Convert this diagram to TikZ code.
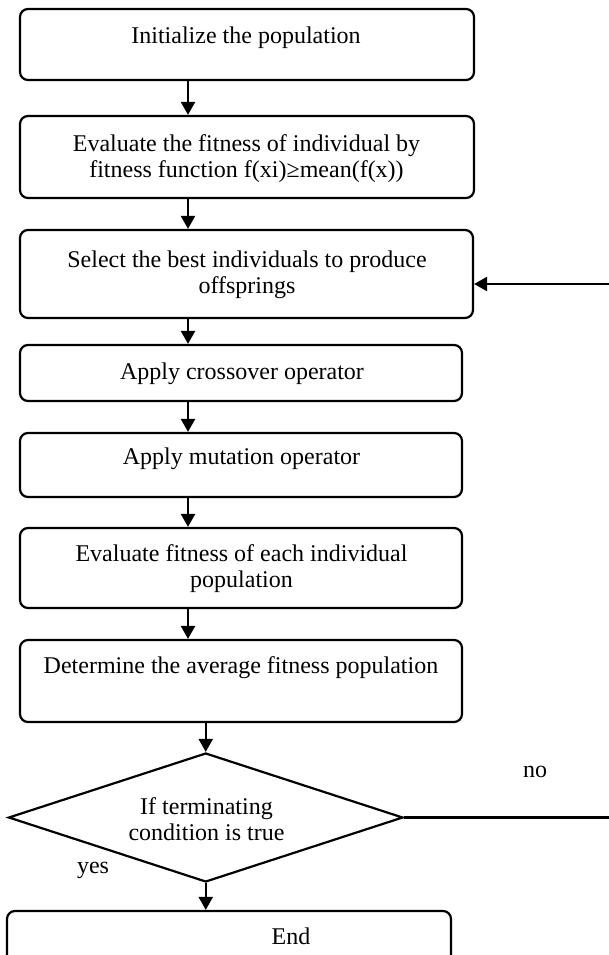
\documentclass[tikz,border=0pt]{standalone}
\usepackage{fontspec}
\setmainfont{Liberation Serif}
\usetikzlibrary{arrows.meta,shapes.geometric}
\begin{document}
\begin{tikzpicture}[x=1pt,y=-1pt,
  box/.style={draw, line width=2.2pt, rounded corners=8pt, inner sep=0pt},
  txt/.style={font=\fontsize{24}{26}\selectfont, align=center, inner sep=0pt, anchor=base},
  flow/.style={line width=2.2pt, -{Triangle[length=13pt,width=14pt]}},
]
\useasboundingbox (0,0) rectangle (608,955);

% process boxes
\node[box, minimum width=454pt, minimum height=71pt] (b1) at (247,44.5) {};
\node[box, minimum width=454pt, minimum height=82pt] (b2) at (247,157) {};
\node[box, minimum width=453pt, minimum height=88pt] (b3) at (246.5,274) {};
\node[box, minimum width=442pt, minimum height=56pt] (b4) at (241,373) {};
\node[box, minimum width=442pt, minimum height=64pt] (b5) at (241,465) {};
\node[box, minimum width=442pt, minimum height=80pt] (b6) at (241,568) {};
\node[box, minimum width=442pt, minimum height=82pt] (b7) at (241,681) {};
\node[draw, line width=2.2pt, diamond, inner sep=0pt, minimum width=394.5pt, minimum height=129pt] (dec) at (205.75,817.5) {};
\node[box, minimum width=444pt, minimum height=64pt] (end) at (229,943) {};

% box texts (base anchor sits on the last line)
\node[txt] (t1) at (246,44) {Initialize the population};
\node[txt] (t2) at (246.5,177) {Evaluate the fitness of individual by\\fitness function f(xi)≥mean(f(x))};
\node[txt] (t3) at (247,293) {Select the best individuals to produce\\offsprings};
\node[txt] (t4) at (242,379) {Apply crossover operator};
\node[txt] (t5) at (241.5,464) {Apply mutation operator};
\node[txt] (t6) at (241.5,587) {Evaluate fitness of each individual\\population};
\node[txt] (t7) at (241,673) {Determine the average fitness population};
\node[txt] (td) at (206.5,840) {If terminating\\condition is true};
\node[txt] (te) at (291,944) {End};
\node[txt] (lno) at (535,777) {no};
\node[txt] (lyes) at (93,873) {yes};

% connectors
\coordinate (ax) at (188,0);
\coordinate (fb) at (622,284);
\draw[flow] (b1.south -| ax) -- (b2.north -| ax);
\draw[flow] (b2.south -| ax) -- (b3.north -| ax);
\draw[flow] (b3.south -| ax) -- (b4.north -| ax);
\draw[flow] (b4.south -| ax) -- (b5.north -| ax);
\draw[flow] (b5.south -| ax) -- (b6.north -| ax);
\draw[flow] (b6.south -| ax) -- (b7.north -| ax);
\draw[flow] (b7.south -| dec.north) -- (dec.north);
\draw[flow] (dec.south) -- (end.north -| dec.south);
\draw[flow] (dec.east) -- (dec.east -| fb) -- (fb) -- (b3.east |- fb);
\end{tikzpicture}
\end{document}
